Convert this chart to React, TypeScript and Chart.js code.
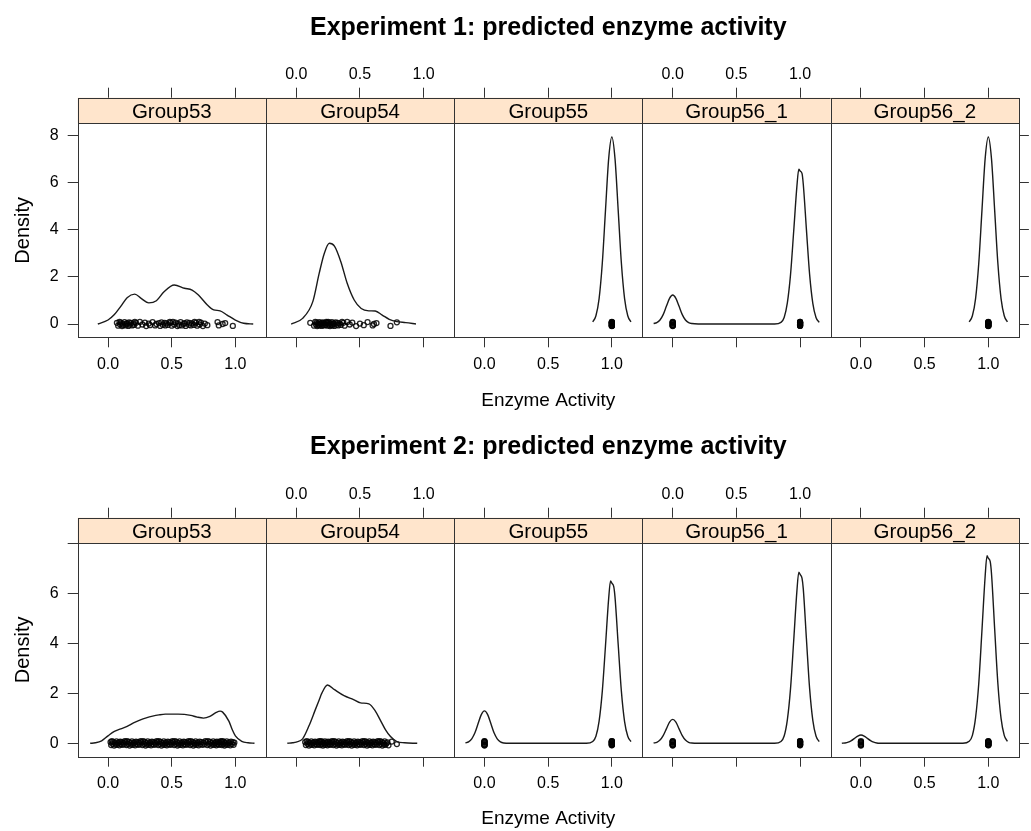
import React, { useEffect, useRef } from 'react';
import { Chart, registerables } from 'chart.js';

Chart.register(...registerables);
Chart.defaults.font.family = "'Liberation Sans', Arial, Helvetica, sans-serif";

// ---------- data ----------
const GROUPS = ['Group53', 'Group54', 'Group55', 'Group56_1', 'Group56_2'];
const X_TICKS = [0, 0.5, 1];
const Y_TICKS = [0, 2, 4, 6, 8];
const E1_Y_LABELS = [0, 2, 4, 6, 8];
const E2_Y_LABELS = [0, 2, 4, 6];
const JITTER = [0.05, -0.07, 0.09, -0.02, 0.06, -0.09, 0.02, -0.05, 0.08, -0.06, 0.0, 0.04, -0.08, 0.07, -0.03, 0.05, -0.06, 0.03, -0.04, 0.09];

// Experiment 1 density curves
const E1_G53_X = [-0.08, 0, 0.05, 0.1, 0.15, 0.21, 0.26, 0.32, 0.38, 0.44, 0.52, 0.6, 0.66, 0.71, 0.78, 0.83, 0.88, 0.935, 1.0, 1.065, 1.14];
const E1_G53_D = [0, 0.17, 0.4, 0.75, 1.12, 1.27, 1.09, 0.9, 0.99, 1.37, 1.66, 1.52, 1.44, 1.23, 0.81, 0.6, 0.56, 0.38, 0.17, 0.03, 0];
const E1_G54_X = [-0.04, 0.05, 0.13, 0.18, 0.22, 0.26, 0.3, 0.35, 0.4, 0.455, 0.51, 0.57, 0.62, 0.675, 0.73, 0.79, 0.86, 0.94];
const E1_G54_D = [0, 0.24, 0.95, 2.15, 3.0, 3.43, 3.31, 2.65, 1.73, 1.02, 0.66, 0.56, 0.55, 0.38, 0.2, 0.1, 0.06, 0];
const E1_G55_X = [0.85, 0.875, 0.9, 0.925, 0.95, 0.975, 1.0, 1.025, 1.05, 1.075, 1.1, 1.125, 1.15];
const E1_G55_D = [0.09, 0.35, 1.08, 2.58, 4.82, 7.02, 7.95, 7.02, 4.82, 2.58, 1.08, 0.35, 0.09];
const E1_G561_X = [-0.15, -0.125, -0.1, -0.075, -0.05, -0.025, 0, 0.025, 0.05, 0.075, 0.1, 0.125, 0.15, 0.2, 0.8, 0.85, 0.875, 0.9, 0.925, 0.95, 0.975, 0.99, 1.0, 1.015, 1.025, 1.05, 1.075, 1.1, 1.125, 1.15];
const E1_G561_D = [0.02, 0.06, 0.17, 0.4, 0.75, 1.09, 1.23, 1.09, 0.75, 0.4, 0.17, 0.06, 0.02, 0, 0, 0.07, 0.28, 0.9, 2.1, 3.95, 5.85, 6.58, 6.5, 6.4, 5.95, 4.0, 2.1, 0.88, 0.28, 0.07];
const E1_G562_X = [0.85, 0.875, 0.9, 0.925, 0.95, 0.975, 1.0, 1.025, 1.05, 1.075, 1.1, 1.125, 1.15];
const E1_G562_D = [0.09, 0.35, 1.08, 2.58, 4.82, 7.02, 7.95, 7.02, 4.82, 2.58, 1.08, 0.35, 0.09];

// Experiment 2 density curves
const E2_G53_X = [-0.14, -0.1, -0.05, 0, 0.05, 0.1, 0.15, 0.2, 0.25, 0.3, 0.35, 0.4, 0.45, 0.5, 0.55, 0.6, 0.65, 0.7, 0.75, 0.8, 0.85, 0.88, 0.9, 0.95, 0.975, 1.0, 1.05, 1.1, 1.15];
const E2_G53_D = [0, 0.02, 0.1, 0.3, 0.48, 0.58, 0.68, 0.82, 0.93, 1.02, 1.09, 1.14, 1.17, 1.17, 1.17, 1.16, 1.12, 1.05, 1.01, 1.08, 1.24, 1.29, 1.25, 0.88, 0.55, 0.3, 0.08, 0.02, 0];
const E2_G54_X = [-0.07, -0.03, 0, 0.05, 0.1, 0.15, 0.18, 0.2, 0.245, 0.3, 0.375, 0.45, 0.505, 0.57, 0.62, 0.66, 0.7, 0.74, 0.79, 0.85, 0.95];
const E2_G54_D = [0, 0.02, 0.05, 0.18, 0.7, 1.35, 1.74, 2.0, 2.34, 2.15, 1.91, 1.75, 1.62, 1.58, 1.3, 0.93, 0.55, 0.27, 0.07, 0.02, 0];
const PEAK_X = [-0.15, -0.125, -0.1, -0.075, -0.05, -0.025, 0, 0.025, 0.05, 0.075, 0.1, 0.125, 0.15, 0.2, 0.8, 0.85, 0.875, 0.9, 0.925, 0.95, 0.975, 0.99, 1.0, 1.015, 1.025, 1.05, 1.075, 1.1, 1.125, 1.15];
const E2_G55_D = [0.014, 0.057, 0.18, 0.42, 0.79, 1.15, 1.3, 1.15, 0.79, 0.42, 0.18, 0.057, 0.014, 0, 0, 0.07, 0.28, 0.89, 2.08, 3.9, 5.8, 6.51, 6.42, 6.28, 5.85, 3.95, 2.08, 0.87, 0.28, 0.07];
const E2_G561_D = [0.01, 0.04, 0.13, 0.31, 0.58, 0.85, 0.96, 0.85, 0.58, 0.31, 0.13, 0.04, 0.01, 0, 0, 0.07, 0.29, 0.94, 2.19, 4.12, 6.1, 6.86, 6.77, 6.62, 6.2, 4.17, 2.19, 0.92, 0.29, 0.07];
const E2_G562_D = [0.004, 0.014, 0.045, 0.11, 0.2, 0.29, 0.33, 0.29, 0.2, 0.11, 0.045, 0.014, 0.004, 0, 0, 0.08, 0.32, 1.03, 2.4, 4.52, 6.69, 7.52, 7.42, 7.28, 6.8, 4.57, 2.4, 1.0, 0.32, 0.08];

// observed values (rug points)
const E1_G53_PTS = [0.07, 0.08, 0.09, 0.095, 0.1, 0.11, 0.115, 0.12, 0.13, 0.14, 0.145, 0.15, 0.16, 0.165, 0.17, 0.18, 0.19, 0.2, 0.205, 0.21, 0.22, 0.235, 0.25, 0.27, 0.29, 0.3, 0.32, 0.33, 0.35, 0.37, 0.38, 0.4, 0.41, 0.42, 0.43, 0.445, 0.45, 0.46, 0.47, 0.485, 0.49, 0.5, 0.51, 0.52, 0.53, 0.545, 0.55, 0.56, 0.57, 0.58, 0.595, 0.6, 0.61, 0.62, 0.635, 0.64, 0.65, 0.66, 0.675, 0.68, 0.69, 0.7, 0.715, 0.72, 0.73, 0.745, 0.76, 0.78, 0.86, 0.87, 0.9, 0.92, 0.98];
const E1_G54_PTS = [0.11, 0.14, 0.15, 0.155, 0.16, 0.165, 0.17, 0.175, 0.18, 0.185, 0.19, 0.195, 0.2, 0.205, 0.21, 0.215, 0.22, 0.225, 0.23, 0.235, 0.24, 0.245, 0.25, 0.255, 0.26, 0.265, 0.27, 0.275, 0.28, 0.285, 0.29, 0.295, 0.3, 0.31, 0.32, 0.325, 0.33, 0.34, 0.35, 0.36, 0.37, 0.38, 0.4, 0.42, 0.44, 0.47, 0.5, 0.53, 0.56, 0.6, 0.61, 0.63, 0.74, 0.79];
const E1_G55_PTS = [1, 1, 1, 1, 1, 1, 1, 1, 1, 1, 1, 1, 1, 1];
const E1_G561_PTS = [0, 0, 0, 0, 0, 0, 0, 0, 0, 0, 1, 1, 1, 1, 1, 1, 1, 1, 1, 1, 1, 1, 1, 1];
const E1_G562_PTS = [1, 1, 1, 1, 1, 1, 1, 1, 1, 1, 1, 1, 1, 1];
const E2_G53_PTS = [0.02, 0.025, 0.03, 0.035, 0.04, 0.048, 0.055, 0.06, 0.066, 0.072, 0.078, 0.085, 0.09, 0.096, 0.1, 0.107, 0.113, 0.12, 0.126, 0.132, 0.138, 0.145, 0.15, 0.156, 0.163, 0.17, 0.176, 0.182, 0.188, 0.195, 0.2, 0.207, 0.213, 0.22, 0.226, 0.232, 0.238, 0.245, 0.25, 0.256, 0.262, 0.27, 0.276, 0.282, 0.288, 0.295, 0.3, 0.306, 0.312, 0.32, 0.326, 0.332, 0.338, 0.345, 0.35, 0.356, 0.362, 0.37, 0.376, 0.382, 0.388, 0.395, 0.4, 0.406, 0.412, 0.42, 0.426, 0.432, 0.438, 0.445, 0.45, 0.456, 0.462, 0.47, 0.476, 0.482, 0.488, 0.495, 0.5, 0.506, 0.512, 0.52, 0.526, 0.532, 0.538, 0.545, 0.55, 0.556, 0.562, 0.57, 0.576, 0.582, 0.588, 0.595, 0.6, 0.606, 0.612, 0.62, 0.626, 0.632, 0.638, 0.645, 0.65, 0.656, 0.662, 0.67, 0.676, 0.682, 0.688, 0.695, 0.7, 0.706, 0.712, 0.72, 0.728, 0.735, 0.742, 0.75, 0.758, 0.765, 0.772, 0.78, 0.786, 0.792, 0.8, 0.806, 0.812, 0.82, 0.826, 0.832, 0.838, 0.845, 0.85, 0.855, 0.86, 0.865, 0.87, 0.875, 0.88, 0.885, 0.89, 0.895, 0.9, 0.905, 0.91, 0.915, 0.92, 0.926, 0.932, 0.94, 0.946, 0.952, 0.96, 0.966, 0.972, 0.98, 0.986, 0.992];
const E2_G54_PTS = [0.07, 0.076, 0.082, 0.088, 0.094, 0.1, 0.106, 0.112, 0.118, 0.124, 0.13, 0.136, 0.142, 0.148, 0.154, 0.16, 0.165, 0.17, 0.175, 0.18, 0.185, 0.19, 0.195, 0.2, 0.205, 0.21, 0.215, 0.22, 0.225, 0.23, 0.235, 0.24, 0.245, 0.25, 0.255, 0.26, 0.265, 0.27, 0.275, 0.28, 0.286, 0.292, 0.298, 0.304, 0.31, 0.316, 0.322, 0.328, 0.334, 0.34, 0.346, 0.352, 0.358, 0.364, 0.37, 0.376, 0.382, 0.388, 0.394, 0.4, 0.406, 0.412, 0.418, 0.424, 0.43, 0.436, 0.442, 0.448, 0.454, 0.46, 0.466, 0.472, 0.478, 0.484, 0.49, 0.496, 0.502, 0.508, 0.514, 0.52, 0.526, 0.532, 0.538, 0.544, 0.55, 0.556, 0.562, 0.568, 0.574, 0.58, 0.586, 0.592, 0.598, 0.604, 0.61, 0.616, 0.622, 0.628, 0.634, 0.64, 0.646, 0.652, 0.658, 0.664, 0.67, 0.676, 0.682, 0.688, 0.694, 0.7, 0.708, 0.716, 0.724, 0.75, 0.79];
const E2_G55_PTS = [0, 0, 0, 0, 0, 0, 0, 0, 0, 0, 1, 1, 1, 1, 1, 1, 1, 1, 1, 1, 1, 1, 1, 1];
const E2_G561_PTS = [0, 0, 0, 0, 0, 0, 0, 0, 0, 0, 1, 1, 1, 1, 1, 1, 1, 1, 1, 1, 1, 1, 1, 1];
const E2_G562_PTS = [0, 0, 0, 0, 0, 0, 0, 0, 1, 1, 1, 1, 1, 1, 1, 1, 1, 1, 1, 1, 1, 1];

// ---------- layout / style ----------
const X_MIN = -0.238;
const X_MAX = 1.24;
const W = 1031;

type PanelData = { dx: number[]; dy: number[]; pts: number[] };
type Exp = {
  title: string;
  panels: PanelData[];
  yMin: number;
  yMax: number;
  yLabels: number[];
  topH: number;
  stripH: number;
  bottomH: number;
  titleY: number;
  xTitleY: number;
  height: number;
  top: number;
};

const EXP1: Exp = {
  title: 'Experiment 1: predicted enzyme activity',
  panels: [
    { dx: E1_G53_X, dy: E1_G53_D, pts: E1_G53_PTS },
    { dx: E1_G54_X, dy: E1_G54_D, pts: E1_G54_PTS },
    { dx: E1_G55_X, dy: E1_G55_D, pts: E1_G55_PTS },
    { dx: E1_G561_X, dy: E1_G561_D, pts: E1_G561_PTS },
    { dx: E1_G562_X, dy: E1_G562_D, pts: E1_G562_PTS },
  ],
  yMin: -0.565,
  yMax: 8.53,
  yLabels: E1_Y_LABELS,
  topH: 97.7,
  stripH: 25.6,
  bottomH: 77.7,
  titleY: 35,
  xTitleY: 406,
  height: 415,
  top: 0,
};

const EXP2: Exp = {
  title: 'Experiment 2: predicted enzyme activity',
  panels: [
    { dx: E2_G53_X, dy: E2_G53_D, pts: E2_G53_PTS },
    { dx: E2_G54_X, dy: E2_G54_D, pts: E2_G54_PTS },
    { dx: PEAK_X, dy: E2_G55_D, pts: E2_G55_PTS },
    { dx: PEAK_X, dy: E2_G561_D, pts: E2_G561_PTS },
    { dx: PEAK_X, dy: E2_G562_D, pts: E2_G562_PTS },
  ],
  yMin: -0.537,
  yMax: 8.03,
  yLabels: E2_Y_LABELS,
  topH: 102.7,
  stripH: 25.3,
  bottomH: 74.3,
  titleY: 39.3,
  xTitleY: 409.3,
  height: 416,
  top: 415,
};

const FONT = "'Liberation Sans', Arial, Helvetica, sans-serif";

const latticePlugin = {
  id: 'lattice',
  afterDraw(chart: any, _args: any, opts: any) {
    const ctx = chart.ctx as CanvasRenderingContext2D;
    const ca = chart.chartArea;
    const r = (v: number) => Math.round(v) + 0.5;
    ctx.save();
    ctx.lineWidth = 1;
    for (let i = 0; i < GROUPS.length; i++) {
      const s = chart.scales['xs' + i];
      const b = chart.scales['xb' + i];
      // strip
      ctx.fillStyle = '#FFE5CC';
      ctx.fillRect(s.left, s.top, s.right - s.left, s.bottom - s.top);
      ctx.strokeStyle = '#333';
      ctx.strokeRect(r(s.left), r(s.top), Math.round(s.right) - Math.round(s.left), Math.round(s.bottom) - Math.round(s.top));
      ctx.fillStyle = '#000';
      ctx.font = `20.5px ${FONT}`;
      ctx.textAlign = 'center';
      ctx.textBaseline = 'alphabetic';
      ctx.fillText(GROUPS[i], (s.left + s.right) / 2, (s.top + s.bottom) / 2 + 7.3);
      // panel box
      ctx.strokeStyle = '#333';
      ctx.strokeRect(r(b.left), r(ca.top), Math.round(b.right) - Math.round(b.left), Math.round(ca.bottom) - Math.round(ca.top));
    }
    const cx = (ca.left + ca.right) / 2;
    ctx.fillStyle = '#000';
    ctx.textAlign = 'center';
    ctx.textBaseline = 'alphabetic';
    ctx.font = `bold 25px ${FONT}`;
    ctx.fillText(opts.title, cx, opts.titleY);
    ctx.font = `19px ${FONT}`;
    ctx.fillText('Enzyme Activity', cx, opts.xTitleY);
    ctx.save();
    ctx.translate(28.5, (ca.top + ca.bottom) / 2);
    ctx.rotate(-Math.PI / 2);
    ctx.font = `20px ${FONT}`;
    ctx.fillText('Density', 0, 0);
    ctx.restore();
    ctx.restore();
  },
};

function makeConfig(exp: Exp): any {
  const scales: any = {};
  const datasets: any[] = [];
  const tickFont = { size: 16, family: FONT };
  const xticks = () => (s: any) => {
    s.ticks = X_TICKS.map((v) => ({ value: v }));
  };
  const n = GROUPS.length;
  for (let i = 0; i < n; i++) {
    const labelBottom = i % 2 === 0;
    scales['xb' + i] = {
      type: 'linear', axis: 'x', position: 'bottom', stack: 'b', stackWeight: 1, weight: 0,
      min: X_MIN, max: X_MAX,
      afterBuildTicks: xticks(),
      afterFit: (s: any) => { s.height = exp.bottomH; },
      border: { display: false },
      grid: { display: true, drawOnChartArea: false, drawTicks: true, tickLength: 10, tickColor: '#333', tickWidth: 1 },
      ticks: { display: labelBottom, padding: 7.4, font: tickFont, color: '#000', maxRotation: 0, autoSkip: false, callback: (v: any) => Number(v).toFixed(1) },
    };
  }
  // top-positioned stacks are laid out in reverse insertion order, so add them last-to-first
  for (let i = n - 1; i >= 0; i--) {
    scales['xs' + i] = {
      type: 'linear', axis: 'x', position: 'top', stack: 's', stackWeight: 1, weight: 1,
      min: X_MIN, max: X_MAX,
      afterBuildTicks: xticks(),
      afterFit: (s: any) => { s.height = exp.stripH; },
      border: { display: false },
      grid: { display: false },
      ticks: { display: false },
    };
  }
  for (let i = n - 1; i >= 0; i--) {
    const labelTop = i % 2 === 1;
    scales['xt' + i] = {
      type: 'linear', axis: 'x', position: 'top', stack: 't', stackWeight: 1, weight: 2,
      min: X_MIN, max: X_MAX,
      afterBuildTicks: xticks(),
      afterFit: (s: any) => { s.height = exp.topH; },
      border: { display: false },
      grid: { display: true, drawOnChartArea: false, drawTicks: true, tickLength: 10, tickColor: '#333', tickWidth: 1 },
      ticks: { display: labelTop, padding: 3.6, font: tickFont, color: '#000', maxRotation: 0, autoSkip: false, callback: (v: any) => Number(v).toFixed(1) },
    };
  }
  const yticks = (s: any) => {
    s.ticks = Y_TICKS.map((v) => ({ value: v }));
  };
  scales.y = {
    type: 'linear', axis: 'y', position: 'left', min: exp.yMin, max: exp.yMax,
    afterBuildTicks: yticks,
    afterFit: (s: any) => { s.width = 77.7; },
    border: { display: false },
    grid: { display: true, drawOnChartArea: false, drawTicks: true, tickLength: 10, tickColor: '#333', tickWidth: 1 },
    ticks: { padding: 9, font: tickFont, color: '#000', autoSkip: false, callback: (v: any) => (exp.yLabels.includes(Number(v)) ? String(v) : '') },
  };
  scales.y2 = {
    type: 'linear', axis: 'y', position: 'right', min: exp.yMin, max: exp.yMax,
    afterBuildTicks: yticks,
    afterFit: (s: any) => { s.width = 3; },
    border: { display: false },
    grid: { display: true, drawOnChartArea: false, drawTicks: true, tickLength: 10, tickColor: '#333', tickWidth: 1 },
    ticks: { display: false },
  };

  exp.panels.forEach((p, i) => {
    datasets.push({
      type: 'scatter',
      data: p.dx.map((x, k) => ({ x, y: p.dy[k] })),
      xAxisID: 'xb' + i,
      yAxisID: 'y',
      showLine: true,
      pointRadius: 0,
      borderColor: '#1a1a1a',
      borderWidth: 1.4,
      cubicInterpolationMode: 'monotone',
      fill: false,
    });
    datasets.push({
      type: 'scatter',
      data: p.pts.map((x, k) => ({ x, y: JITTER[k % JITTER.length] })),
      xAxisID: 'xb' + i,
      yAxisID: 'y',
      showLine: false,
      pointStyle: 'circle',
      pointRadius: 2.5,
      pointBorderWidth: 1.3,
      pointBorderColor: 'rgba(0,0,0,0.85)',
      pointBackgroundColor: 'rgba(0,0,0,0)',
    });
  });

  return {
    type: 'scatter',
    data: { datasets },
    options: {
      animation: false,
      responsive: false,
      events: [],
      layout: { padding: 0 },
      scales,
      plugins: {
        legend: { display: false },
        tooltip: { enabled: false },
        title: { display: false },
        lattice: { title: exp.title, titleY: exp.titleY, xTitleY: exp.xTitleY },
      },
    },
    plugins: [latticePlugin],
  };
}

function ExpChart({ exp }: { exp: Exp }) {
  const ref = useRef<HTMLCanvasElement>(null);
  useEffect(() => {
    if (!ref.current) return;
    const chart = new Chart(ref.current, makeConfig(exp));
    return () => chart.destroy();
  }, [exp]);
  return (
    <canvas
      ref={ref}
      width={W}
      height={exp.height}
      style={{ position: 'absolute', left: 0, top: exp.top, width: W, height: exp.height, display: 'block' }}
    />
  );
}

export default function App() {
  return (
    <div style={{ position: 'absolute', left: 0, top: 0, width: W, height: 831, background: '#fff', overflow: 'hidden' }}>
      <ExpChart exp={EXP1} />
      <ExpChart exp={EXP2} />
    </div>
  );
}
